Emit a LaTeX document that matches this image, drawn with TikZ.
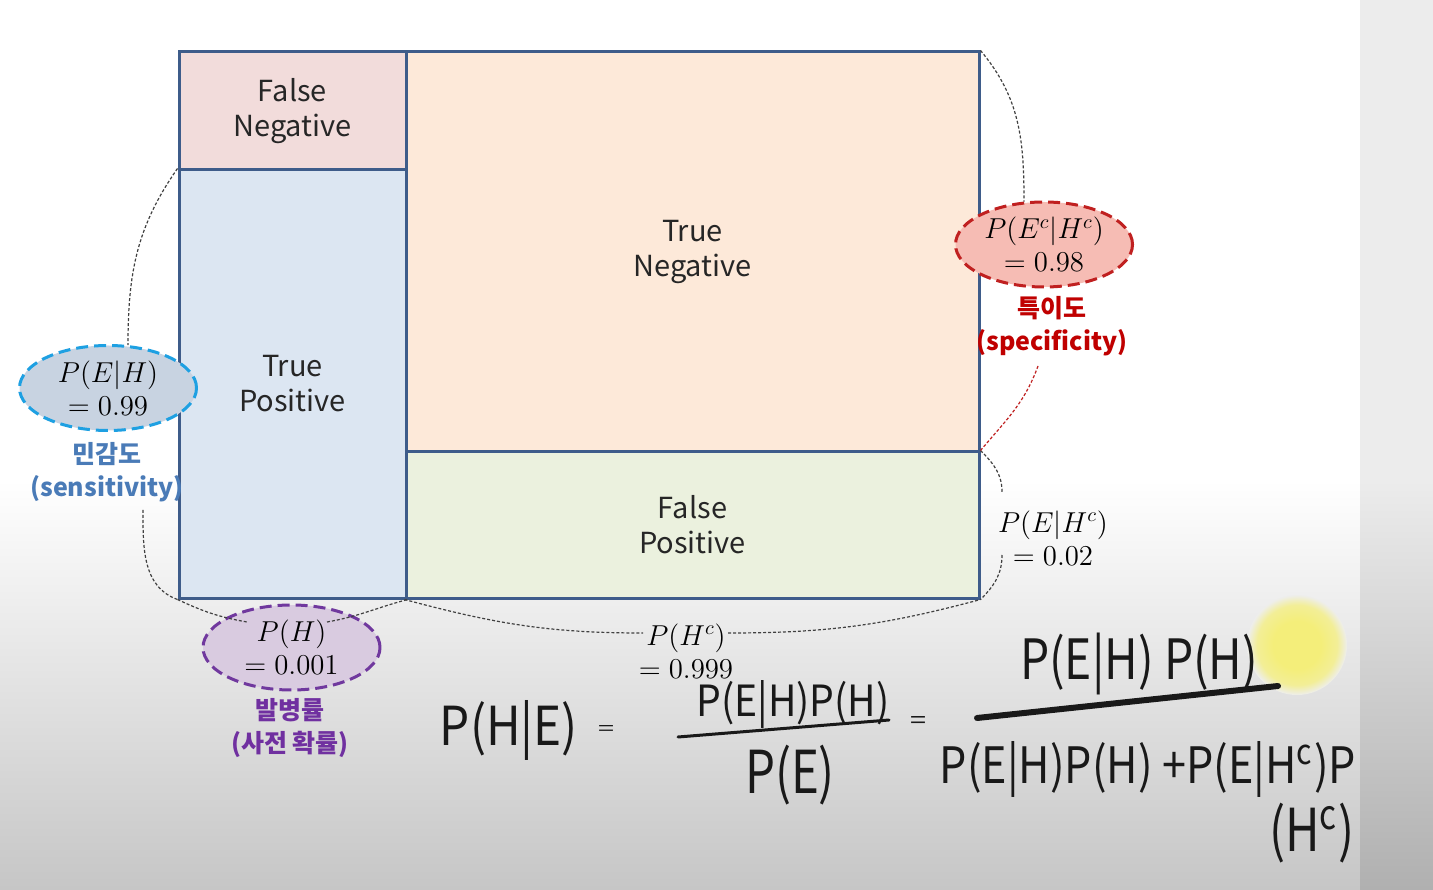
\documentclass[tikz,border=0pt]{standalone}
\usepackage{fontspec}
\usepackage{tikz}
\usetikzlibrary{shapes.geometric}
\newfontfamily\kr{Noto Sans CJK KR}
\definecolor{cellline}{RGB}{62,92,138}
\definecolor{fnfill}{RGB}{242,220,219}
\definecolor{tpfill}{RGB}{220,230,242}
\definecolor{tnfill}{RGB}{253,233,217}
\definecolor{fpfill}{RGB}{235,241,222}
\definecolor{sensfill}{RGB}{200,211,225}
\definecolor{sensline}{RGB}{30,160,226}
\definecolor{senstext}{RGB}{74,123,183}
\definecolor{specfill}{RGB}{246,188,180}
\definecolor{specline}{RGB}{192,32,32}
\definecolor{spectext}{RGB}{192,0,0}
\definecolor{prevfill}{RGB}{217,203,224}
\definecolor{prevline}{RGB}{112,56,158}
\definecolor{prevtext}{RGB}{112,48,160}
\definecolor{bggray}{RGB}{198,198,198}
\definecolor{stripgray}{RGB}{236,236,236}
\definecolor{stripdark}{RGB}{176,176,176}
\definecolor{glowy}{RGB}{244,238,122}
\definecolor{bgpale}{RGB}{238,238,236}
\pgfdeclareradialshading{glow}{\pgfpoint{0bp}{0bp}}{color(0bp)=(glowy); color(12bp)=(glowy); color(20bp)=(glowy!75!bgpale); color(25bp)=(bgpale); color(50bp)=(bgpale)}
\pgfdeclarelayer{bglayer}
\pgfdeclarelayer{nodelayer}
\pgfsetlayers{bglayer,nodelayer,main}
\tikzstyle{cell}=[rectangle, draw=cellline, line width=1.5pt, inner sep=0pt, align=center, text=black!85, font=\kr\fontsize{14.5}{17.5}\selectfont]
\tikzstyle{prob}=[ellipse, line width=1.5pt, dash pattern=on 6pt off 3pt, minimum width=88.5pt, minimum height=42.5pt, inner sep=0pt, align=center, font=\fontsize{14}{16.5}\selectfont]
\tikzstyle{plain}=[inner sep=0pt, align=center, font=\fontsize{14}{16.5}\selectfont]
\tikzstyle{tag}=[inner sep=0pt, align=center, font=\kr\bfseries\fontsize{12.5}{16.5}\selectfont]
\tikzstyle{brace}=[draw=black!75, line width=0.6pt, dash pattern=on 1.5pt off 1pt]
\tikzstyle{hand}=[inner sep=0pt, text=black!90, font=\kr]
\tikzstyle{bar}=[draw=black!90, line cap=round]

\begin{document}
\begin{tikzpicture}[x=0.5pt, y=0.5pt]
	\useasboundingbox (0,0) rectangle (1433,889);
	\begin{pgfonlayer}{bglayer}
		\fill[white] (0,0) rectangle (1433,889);
		\shade[top color=white, bottom color=bggray] (0,0) rectangle (1360,409);
		\fill[stripgray] (1360,409) rectangle (1433,889);
		\shade[top color=stripgray, bottom color=stripdark] (1360,0) rectangle (1433,409);
		\shade[shading=glow] (1297,244) circle (50);
	\end{pgfonlayer}
	\begin{pgfonlayer}{nodelayer}
		% the four cells
		\node [style=cell, fill=fnfill, minimum width=113.5pt, minimum height=59pt] (fn) at (292.5,778) {False\\Negative};
		\node [style=cell, fill=tpfill, minimum width=113.5pt, minimum height=214pt] (tp) at (292.5,505) {True\\Positive};
		\node [style=cell, fill=tnfill, minimum width=286.5pt, minimum height=200pt] (tn) at (692.5,637) {True\\Negative};
		\node [style=cell, fill=fpfill, minimum width=286.5pt, minimum height=73pt] (fp) at (692.5,364) {False\\Positive};
		% probabilities
		\node [style=prob, fill=sensfill, draw=sensline] (pe) at (108,501) {$P(E|H)$\\$= 0.99$};
		\node [style=prob, fill=specfill, draw=specline] (pec) at (1044,644.5) {$P(E^c|H^c)$\\$= 0.98$};
		\node [style=prob, fill=prevfill, draw=prevline] (ph) at (291.5,241.5) {$P(H)$\\$= 0.001$};
		\node [style=plain] (pehc) at (1053,351) {$P(E|H^c)$\\$= 0.02$};
		\node [style=plain] (phc) at (686,238) {$P(H^c)$\\$= 0.999$};
		% names
		\node [style=tag, text=senstext] (sens) at (107,417) {민감도\\(sensitivity)};
		\node [style=tag, text=spectext] (spec) at (1052,563) {특이도\\(specificity)};
		\node [style=tag, text=prevtext] (prev) at (290,161) {발병률\\(사전 확률)};
		% handwriting
		\node [style=hand] (hw1) at (509,159) {\resizebox*{69pt}{30pt}{P(H|E)}};
		\node [style=hand] (eq1) at (606,159) {\resizebox*{8pt}{5pt}{=}};
		\node [style=hand] (n1) at (793,185) {\resizebox*{96.5pt}{24pt}{P(E|H)P(H)}};
		\node [style=hand] (d1) at (790,114) {\resizebox*{45pt}{30pt}{P(E)}};
		\node [style=hand] (eq2) at (918,167) {\resizebox*{8pt}{6pt}{=}};
		\node [style=hand] (n2) at (1139,225) {\resizebox*{119pt}{31pt}{P(E|H) P(H)}};
		\node [style=hand] (d2) at (1148,120) {\resizebox*{208pt}{28pt}{P(E|H)P(H) +P(E|H\textsuperscript{c})P}};
		\node [style=hand] (d3) at (1312,56) {\resizebox*{43pt}{30pt}{(H\textsuperscript{c})}};
	\end{pgfonlayer}
	\coordinate (s1) at (143,379);
	\coordinate (r1) at (1002,397);
	\coordinate (r2) at (1002,334);
	\coordinate (sp) at (1038,523);
	\coordinate (c1) at (247,267);
	\coordinate (c2) at (327,267);
	\coordinate (b1) at (643,256);
	\coordinate (b2) at (728,256);
	\draw [style=brace] (tp.north west) to[out=235, in=90] (pe.65);
	\draw [style=brace] (s1) to[out=-90, in=160] (tp.south west);
	\draw [style=brace] (tn.north east) to[out=-50, in=90] (pec.115);
	\draw [style=brace] (fp.north east) to[out=-45, in=90] (r1);
	\draw [style=brace] (r2) to[out=-90, in=45] (fp.south east);
	\draw [style=brace, draw=specline] (sp) to[out=-110, in=50] (fp.north east);
	\draw [style=brace] (tp.south west) to[out=-25, in=170] (c1);
	\draw [style=brace] (c2) to[out=10, in=195] (tp.south east);
	\draw [style=brace] (fp.south west) to[out=-15, in=180] (b1);
	\draw [style=brace] (b2) to[out=0, in=195] (fp.south east);
	% fraction bars
	\draw [style=bar, line width=1.5pt] (678,152) -- (889,169);
	\draw [style=bar, line width=3pt] (977,171) -- (1278,203);
\end{tikzpicture}
\end{document}
